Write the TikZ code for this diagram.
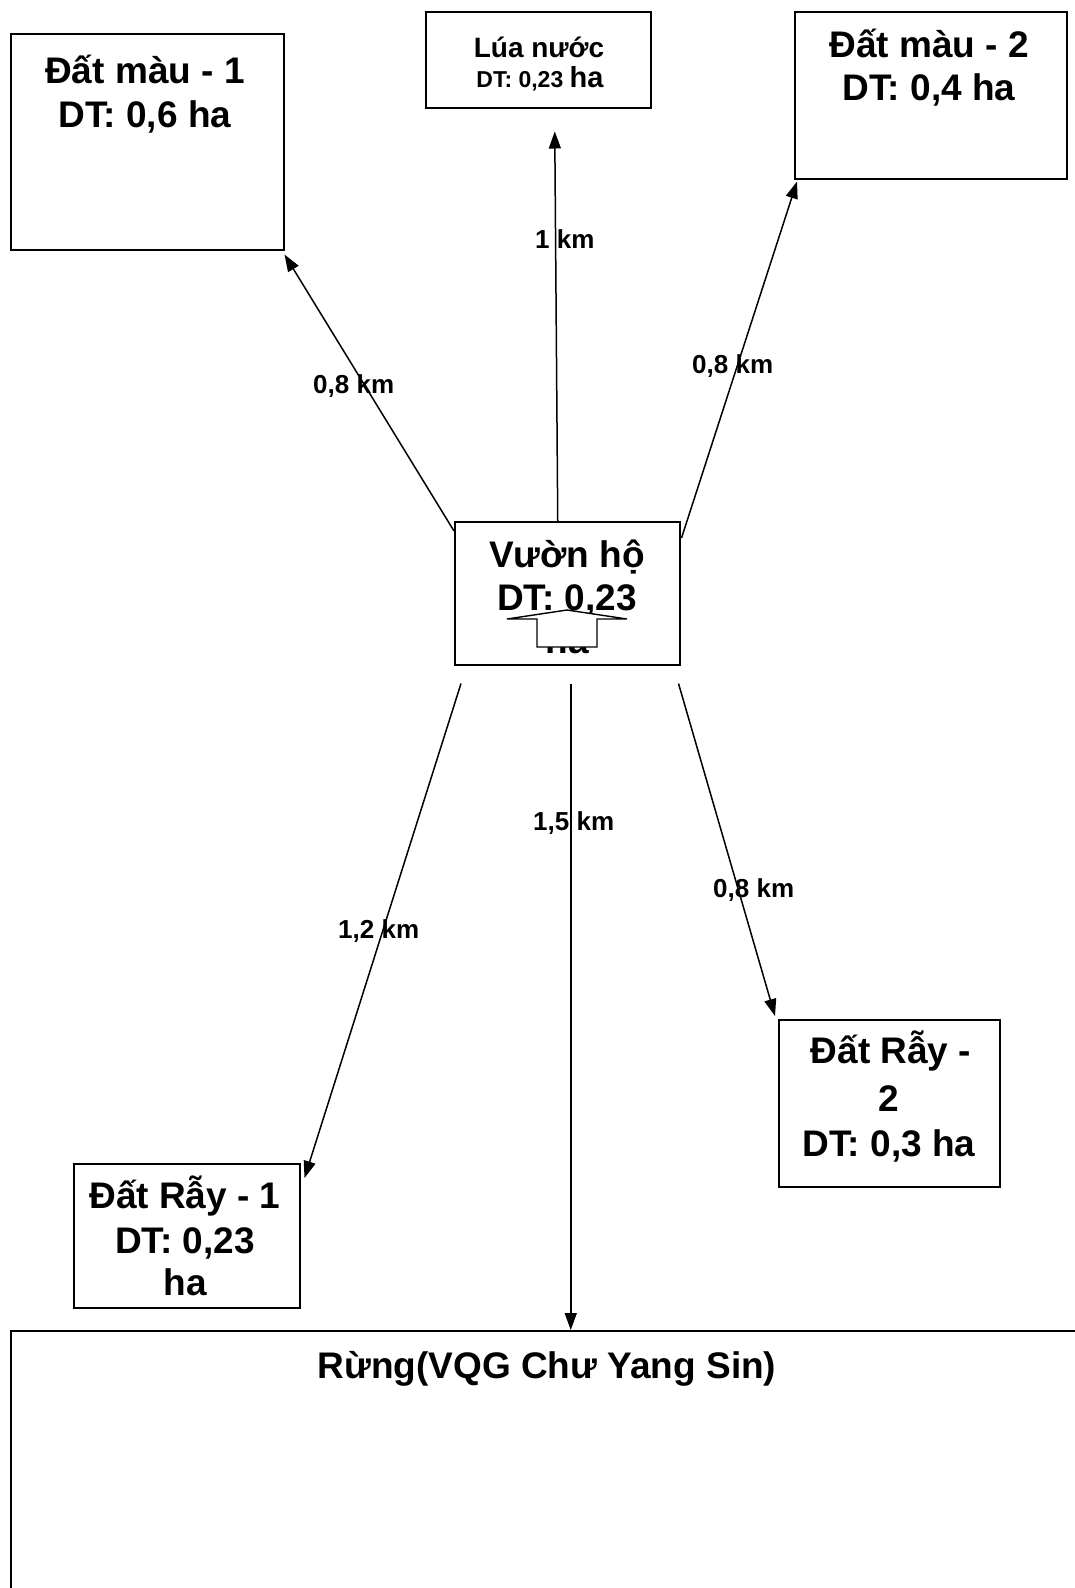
\documentclass[tikz,border=0pt]{standalone}
\usepackage{fontspec}
\setmainfont{Liberation Sans}
\usetikzlibrary{arrows.meta,calc}
\begin{document}
\begin{tikzpicture}[x=1pt,y=-1pt,
  box/.style={draw,line width=1.5pt,inner sep=0pt,anchor=north west},
  big/.style={font=\fontsize{37}{44}\selectfont\bfseries,inner sep=0pt,anchor=base},
  lbl/.style={font=\fontsize{26}{30}\selectfont\bfseries,inner sep=0pt,anchor=base west},
  conn/.style={line width=1.5pt,-{Triangle[length=17pt,width=12pt]}}]
\clip (0,0) rectangle (1075,1588);
\fill[white] (0,0) rectangle (1075,1588);

% boxes
\node[box,minimum width=273pt,minimum height=216pt] (dm1) at (10,33) {};
\node[box,minimum width=225pt,minimum height=96pt] (lua) at (425,11) {};
\node[box,minimum width=272pt,minimum height=167pt] (dm2) at (794,11) {};
\node[box,minimum width=225pt,minimum height=143pt] (v) at (454,521) {};
\node[box,minimum width=226pt,minimum height=144pt] (dr1) at (73,1163) {};
\node[box,minimum width=221pt,minimum height=167pt] (dr2) at (778,1019) {};
\node[box,minimum width=1080pt,minimum height=300pt] (r) at (10,1330) {};

% texts
\node[big] (dm1a) at (145,83) {Đất màu - 1};
\node[big] (dm1b) at (145,127) {DT: 0,6 ha};
\node[inner sep=0pt,anchor=base,font=\fontsize{28}{32}\selectfont\bfseries] (luaa) at (539,57) {Lúa nước};
\node[inner sep=0pt,anchor=base,font=\bfseries] (luab) at (540,87) {{\fontsize{23}{27}\selectfont DT: 0,23 }{\fontsize{29}{33}\selectfont ha}};
\node[big] (dm2a) at (929,57) {Đất màu - 2};
\node[big] (dm2b) at (929,100) {DT: 0,4 ha};
\node[big] (va) at (567,567) {Vườn hộ};
\node[big] (vb) at (567,610) {DT: 0,23};
\begin{scope}
\clip (454,521) rectangle (679,655);
\node[big] (vc) at (567,653) {ha};
\end{scope}
\draw[line width=1.4pt,fill=white] (507,619) -- (567,610) -- (627,619) -- (597,619) -- (597,647) -- (537,647) -- (537,619) -- cycle;
\node[big] (dr1a) at (185,1208) {Đất Rẫy - 1};
\node[big] (dr1b) at (185,1253) {DT: 0,23};
\node[big] (dr1c) at (185,1295) {ha};
\node[big] (dr2a) at (891,1063) {Đất Rẫy -};
\node[big] (dr2b) at (889,1111) {2};
\node[big] (dr2c) at (889,1156) {DT: 0,3 ha};
\node[big] (ra) at (547,1378) {Rừng(VQG Chư Yang Sin)};

% connectors
\coordinate (vbot) at ($(v.south)+(3.5,18)$);
\draw[conn] ($(v.north west)+(0,10)$) -- ($(dm1.south east)+(0,4)$);
\draw[conn] ($(v.north)+(-9.5,0)$) -- ($(lua.south)+(16.5,23)$);
\draw[conn] ($(v.north east)+(1,17)$) -- ($(dm2.south west)+(3,2)$);
\draw[conn] ($(v.south west)+(7,18)$) -- ($(dr1.north east)+(4,15)$);
\draw[conn] (vbot) -- (vbot |- r.north);
\draw[conn] ($(v.south east)+(-2,18)$) -- ($(dr2.north west)+(-3,-3)$);

% labels
\node[lbl] (l1) at (535,248) {1 km};
\node[lbl] (l2) at (313,393) {0,8 km};
\node[lbl] (l3) at (692,373) {0,8 km};
\node[lbl] (l4) at (533,830) {1,5 km};
\node[lbl] (l5) at (713,897) {0,8 km};
\node[lbl] (l6) at (338,938) {1,2 km};
\end{tikzpicture}
\end{document}
